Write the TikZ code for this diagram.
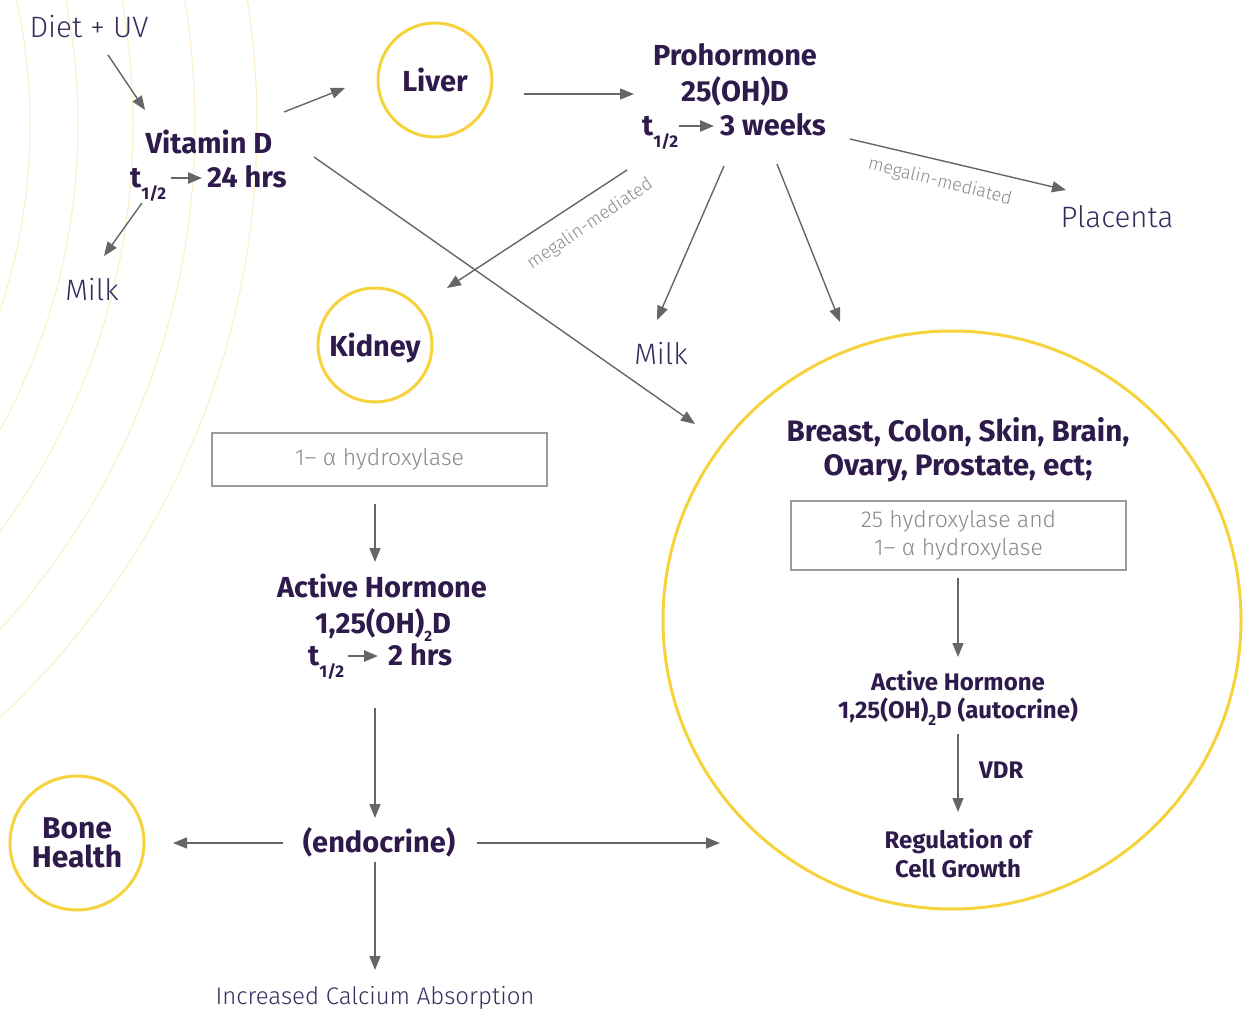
\documentclass[tikz,border=0pt]{standalone}
\usepackage{fontspec}
\setmainfont{Fira Sans}
\newfontfamily\lightfont{Fira Sans Light}
\usetikzlibrary{arrows.meta,calc}
\definecolor{purp}{HTML}{2E1B4B}
\definecolor{purpl}{HTML}{3A2A5E}
\definecolor{yel}{HTML}{F6D33C}
\definecolor{arcy}{HTML}{FCEFC4}
\definecolor{agray}{HTML}{666666}
\definecolor{bgray}{HTML}{9B9B9B}
\definecolor{tgray}{HTML}{8A8A8A}
\newcommand{\thalf}{t\raisebox{-0.42em}{\fontsize{17}{17}\selectfont 1/2}}
\newcommand{\subtwo}{\raisebox{-0.3em}{\fontsize{15}{15}\selectfont 2}}
\begin{document}
\begin{tikzpicture}[x=1pt,y=-1pt,
  bigb/.style={font=\fontsize{29}{30}\selectfont\bfseries, text=purp, inner sep=0pt},
  smb/.style={font=\fontsize{24}{28}\selectfont\bfseries, text=purp, inner sep=0pt},
  lt/.style={font=\lightfont\fontsize{29.5}{31}\selectfont, text=purpl, inner sep=0pt},
  boxt/.style={font=\lightfont\fontsize{23}{28}\selectfont, text=tgray},
  meg/.style={font=\lightfont\fontsize{18}{20}\selectfont, text=tgray, inner sep=0pt},
  ycirc/.style={circle, draw=yel, line width=3pt, inner sep=0pt, align=center},
  gbox/.style={draw=bgray, line width=2pt, inner sep=0pt, align=center},
  arr/.style={draw=agray, line width=1.4pt, -{Triangle[length=14pt,width=11pt]}},
  sarr/.style={draw=agray, line width=2.5pt, -{Triangle[length=14pt,width=11pt]}},
]
\fill[white] (0,0) rectangle (1243,1009);
\useasboundingbox (0,0) rectangle (1243,1009);
\begin{scope}
  \clip (0,0) rectangle (1243,1009);
  \foreach \r in {585,633,688,750,812}
    \draw[arcy, line width=1pt] (-555,125) circle[radius=\r];
\end{scope}

% circles
\node[ycirc, minimum size=114pt, bigb] (liver) at (435,80) {Liver};
\node[ycirc, minimum size=114pt, bigb, text depth=0pt] (kidney) at (375,345) {Kidney};
\node[ycirc, minimum size=134pt, bigb, font=\fontsize{30}{29}\selectfont\bfseries] (bone) at (77,843) {Bone\\Health};
\node[ycirc, minimum size=578pt] (big) at (952,620) {};

% left column texts
\node[lt, anchor=base] (diet) at (89,37) {Diet + UV};
\node[bigb, anchor=base] (vitd) at (209,153) {Vitamin D};
\node[bigb, anchor=base west] (vt) at (130,187) {\thalf};
\node[bigb, anchor=base west] (vh) at (207,187) {24 hrs};
\node[lt, anchor=base] (milk1) at (92,300) {Milk};

% prohormone
\node[bigb, anchor=base] (pro1) at (735,65) {Prohormone};
\node[bigb, anchor=base] (pro2) at (735,101) {25(OH)D};
\node[bigb, anchor=base west] (pt) at (642,135) {\thalf};
\node[bigb, anchor=base west] (ph) at (720,135) {3 weeks};
\node[lt, anchor=base] (plac) at (1117,227) {Placenta};
\node[lt, anchor=base] (milk2) at (661,364) {Milk};
\node[meg, rotate=34] (meg1) at (590,224) {megalin-mediated};
\node[meg, rotate=-14] (meg2) at (940,182) {megalin-mediated};

% kidney path
\node[gbox, boxt, minimum width=335pt, minimum height=53pt] (kbox) at (379.5,459.5) {1– α hydroxylase};
\node[bigb, anchor=base] (act1) at (382,597) {Active Hormone};
\node[bigb, anchor=base] (act2) at (383,633) {1,25(OH)\subtwo D};
\node[bigb, anchor=base west] (at) at (308,665) {\thalf};
\node[bigb, anchor=base west] (ah) at (388,665) {2 hrs};
\node[bigb, anchor=base] (endo) at (379,852) {(endocrine)};
\node[lt, font=\lightfont\fontsize{24}{25}\selectfont, anchor=base] (calc) at (375,1004) {Increased Calcium Absorption};

% big circle contents
\node[bigb, font=\fontsize{29.6}{30}\selectfont\bfseries, anchor=base] (br1) at (958,441) {Breast, Colon, Skin, Brain,};
\node[bigb, font=\fontsize{29.6}{30}\selectfont\bfseries, anchor=base] (br2) at (958,475) {Ovary, Prostate, ect;};
\node[gbox, boxt, minimum width=335pt, minimum height=69pt] (bbox) at (958.5,535.5) {25 hydroxylase and\\1– α hydroxylase};
\node[smb, anchor=base] (ract1) at (958,690) {Active Hormone};
\node[smb, anchor=base] (ract2) at (958,718) {1,25(OH)\subtwo D (autocrine)};
\node[smb, anchor=base west] (vdr) at (979,778) {VDR};
\node[smb, anchor=base] (reg1) at (958,848) {Regulation of};
\node[smb, anchor=base] (reg2) at (958,877) {Cell Growth};

% half-life arrows
\draw[sarr] ([xshift=5pt,yshift=9pt]vt.base east) -- ([xshift=-5pt,yshift=9pt]vh.base west);
\draw[sarr] ([xshift=1pt,yshift=9pt]pt.base east) -- ([xshift=-6pt,yshift=9pt]ph.base west);
\draw[sarr] ([xshift=4pt,yshift=9pt]at.base east) -- ([xshift=-10pt,yshift=9pt]ah.base west);

% connectors
\draw[arr] ([shift={(19,18)}]diet.base) -- ([shift={(-64,-43)}]vitd.base);
\draw[arr] ([shift={(-67,50)}]vitd.base) -- ([shift={(12,-44)}]milk1.base);
\draw[arr] ([shift={(75,-41)}]vitd.base) -- ([shift={(-90,8)}]liver.center);
\draw[arr] ([shift={(105,4)}]vitd.base) -- ([shift={(-257,-196)}]big.center);
\draw[arr] ([shift={(89,14)}]liver.center) -- ([shift={(-101,29)}]pro1.base);
\draw[arr] ([shift={(115,74)}]pro1.base) -- ([shift={(-51,-37)}]plac.base);
\draw[arr] ([shift={(-108,105)}]pro1.base) -- ([shift={(72,-57)}]kidney.center);
\draw[arr] ([shift={(-11,101)}]pro1.base) -- ([shift={(-4,-44)}]milk2.base);
\draw[arr] ([shift={(42,99)}]pro1.base) -- ([shift={(-112,-298)}]big.center);
\draw[arr] ([shift={(-4.5,44.5)}]kbox.center) -- ([shift={(-7,-35)}]act1.base);
\draw[arr] ([shift={(-8,75)}]act2.base) -- ([shift={(-4,-34)}]endo.base);
\draw[arr] ([shift={(-96,-9)}]endo.base) -- ([shift={(96,0)}]bone.center);
\draw[arr] ([shift={(98,-9)}]endo.base) -- ([shift={(-232,223)}]big.center);
\draw[arr] ([shift={(-4,10)}]endo.base) -- ([shift={(0,-34)}]calc.base);
\draw[arr] ([shift={(-0.5,42.5)}]bbox.center) -- ([shift={(0,-33)}]ract1.base);
\draw[arr] ([shift={(0,16)}]ract2.base) -- ([shift={(0,-36)}]reg1.base);
\end{tikzpicture}
\end{document}
